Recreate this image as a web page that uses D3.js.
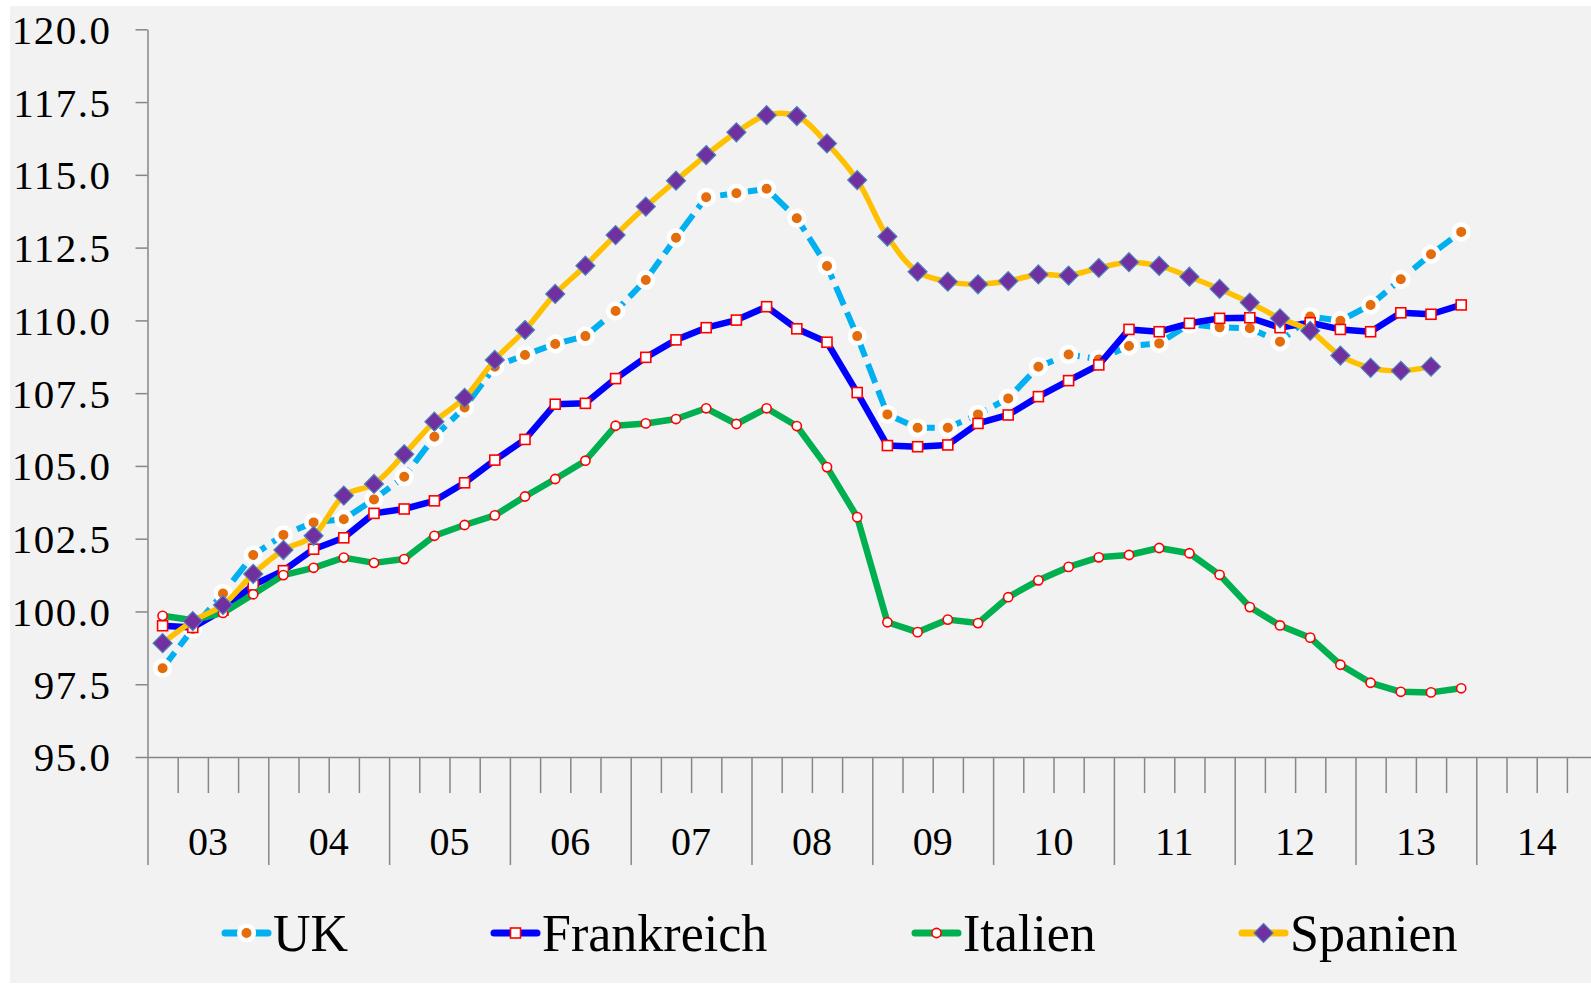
<!DOCTYPE html>
<html>
    <head>
        <title>UK Frankreich Italien Spanien</title>
        <style>
        html, body{
            margin: 0;
            padding: 0;
            background: #ffffff;
        }
        svg{
            display: block;
        }
        </style>
    </head>
    <body>
        <svg width="1591" height="986"></svg>

        <script src="https://cdnjs.cloudflare.com/ajax/libs/d3/7.8.5/d3.min.js"></script>
        <script>
            // quarterly values, 2003 Q1 onwards
            const years = ["03", "04", "05", "06", "07", "08", "09", "10", "11", "12", "13", "14"];
            const yTicks = [95, 97.5, 100, 102.5, 105, 107.5, 110, 112.5, 115, 117.5, 120];

            const uk = [98.05, 99.4, 100.62, 101.94, 102.63, 103.06, 103.17, 103.85, 104.63, 106.0,
                107.01, 108.41, 108.81, 109.19, 109.46, 110.32, 111.39, 112.84, 114.23, 114.37,
                114.52, 113.51, 111.87, 109.46, 106.77, 106.31, 106.31, 106.77, 107.32, 108.41,
                108.83, 108.66, 109.12, 109.21, 109.87, 109.76, 109.73, 109.27, 110.13, 109.99,
                110.53, 111.41, 112.27, 113.04];
            const frankreich = [99.51, 99.45, 100.05, 100.91, 101.4, 102.14, 102.53, 103.37, 103.52, 103.8,
                104.42, 105.2, 105.91, 107.12, 107.15, 108.0, 108.73, 109.33, 109.75, 110.01,
                110.47, 109.71, 109.25, 107.52, 105.7, 105.66, 105.72, 106.46, 106.75, 107.38,
                107.93, 108.47, 109.69, 109.61, 109.9, 110.07, 110.09, 109.75, 109.92, 109.69,
                109.61, 110.26, 110.21, 110.53];
            const italien = [99.85, 99.7, 99.95, 100.59, 101.25, 101.5, 101.85, 101.67, 101.8, 102.6,
                102.97, 103.3, 103.95, 104.55, 105.18, 106.38, 106.46, 106.61, 106.98, 106.44,
                106.98, 106.37, 104.96, 103.24, 99.63, 99.29, 99.72, 99.6, 100.49, 101.07,
                101.53, 101.86, 101.94, 102.18, 102.0, 101.26, 100.15, 99.52, 99.1, 98.17,
                97.55, 97.24, 97.22, 97.36];
            const spanien = [98.91, 99.67, 100.22, 101.29, 102.11, 102.6, 103.98, 104.38, 105.4, 106.52,
                107.34, 108.64, 109.67, 110.91, 111.88, 112.93, 113.91, 114.8, 115.68, 116.46,
                117.05, 117.02, 116.08, 114.82, 112.88, 111.67, 111.33, 111.24, 111.35, 111.58,
                111.54, 111.8, 112.0, 111.87, 111.5, 111.08, 110.61, 110.07, 109.64, 108.79,
                108.37, 108.27, 108.41];

            const width = 1591;
            const x0 = 147.5;
            const qw = 30.2;   // one quarter
            const yTop = 29.3;
            const yBottom = 757;
            const serif = "'Liberation Serif', 'Times New Roman', serif";

            let svg = d3.select("svg");

            // grey chart area
            svg.append("rect")
                .attr("x", 10)
                .attr("y", 6)
                .attr("width", width - 10)
                .attr("height", 977)
                .attr("fill", "#f2f2f2");

            let xScale = d3.scaleLinear()
                .domain([0, years.length * 4])
                .range([x0, x0 + years.length * 4 * qw]);
            let yearScale = d3.scaleBand()
                .domain(years)
                .range(xScale.range());
            let yScale = d3.scaleLinear()
                .domain([95, 120])
                .range([yBottom, yTop]);

            // y axis
            let yAxis = d3.axisLeft(yScale)
                .tickValues(yTicks)
                .tickFormat(d3.format(".1f"))
                .tickSize(12)
                .tickSizeOuter(0)
                .tickPadding(24);
            let gy = svg.append("g")
                .attr("transform", "translate(" + [x0, 0] + ")")
                .call(yAxis);
            gy.selectAll("text")
                .style("font-family", serif)
                .style("font-size", "41px")
                .style("letter-spacing", "1.5px")
                .attr("fill", "#000")
                .attr("dy", "0.34em");

            // x axis: quarter ticks, year ticks, year labels
            let quarters = d3.range(0, years.length * 4 + 1);
            let gq = svg.append("g")
                .attr("transform", "translate(" + [0, yBottom] + ")")
                .call(d3.axisBottom(xScale)
                    .tickValues(quarters.filter(q => q % 4 !== 0))
                    .tickSize(36)
                    .tickSizeOuter(0)
                    .tickFormat(""));
            gq.select(".domain").remove();

            svg.append("g")
                .attr("transform", "translate(" + [0, yBottom] + ")")
                .call(d3.axisBottom(xScale)
                    .tickValues(quarters.filter(q => q % 4 === 0))
                    .tickSize(108)
                    .tickSizeOuter(0)
                    .tickFormat(""));

            let gl = svg.append("g")
                .attr("transform", "translate(" + [0, yBottom] + ")")
                .call(d3.axisBottom(yearScale).tickSize(0).tickPadding(70));
            gl.select(".domain").remove();
            gl.selectAll("text")
                .style("font-family", serif)
                .style("font-size", "40px")
                .attr("fill", "#000");

            svg.selectAll(".domain, .tick line")
                .attr("stroke", "#868686")
                .attr("stroke-width", 1.5);

            // series
            const series = [
                {name: "UK", values: uk, color: "#00b0f0", width: 6, dash: "20,8", marker: "dot"},
                {name: "Frankreich", values: frankreich, color: "#0000ff", width: 6.5, dash: null, marker: "square"},
                {name: "Italien", values: italien, color: "#00b050", width: 6.5, dash: null, marker: "ring"},
                {name: "Spanien", values: spanien, color: "#ffc000", width: 5.5, dash: null, marker: "diamond"}
            ];

            function drawMarker(g, type) {
                if (type === "dot") {
                    g.append("circle").attr("r", 7.3)
                        .attr("fill", "#e46c0a").attr("stroke", "#ffffff").attr("stroke-width", 4.6);
                } else if (type === "square") {
                    g.append("rect").attr("x", -5).attr("y", -5).attr("width", 10).attr("height", 10)
                        .attr("fill", "#ffffff").attr("stroke", "#ff0000").attr("stroke-width", 1.6);
                } else if (type === "ring") {
                    g.append("circle").attr("r", 4.6)
                        .attr("fill", "#ffffff").attr("stroke", "#ff0000").attr("stroke-width", 1.6);
                } else {
                    g.append("path").attr("d", "M0,-9.5L9.5,0L0,9.5L-9.5,0Z")
                        .attr("fill", "#7030a0").attr("stroke", "#4f81bd").attr("stroke-width", 1.2);
                }
            }

            series.forEach(s => {
                let line = d3.line()
                    .x((d, i) => xScale(i + 0.5))
                    .y(d => yScale(d))
                    .curve(s.marker === "diamond" ? d3.curveCatmullRom : d3.curveLinear);

                let g = svg.append("g");
                g.append("path")
                    .datum(s.values)
                    .attr("d", line)
                    .attr("fill", "none")
                    .attr("stroke", s.color)
                    .attr("stroke-width", s.width)
                    .attr("stroke-linejoin", "round")
                    .attr("stroke-dasharray", s.dash);

                g.selectAll(".pt")
                    .data(s.values)
                    .enter().append("g")
                    .attr("class", "pt")
                    .attr("transform", (d, i) => "translate(" + [xScale(i + 0.5), yScale(d)] + ")")
                    .each(function() { drawMarker(d3.select(this), s.marker); });
            });

            // legend
            const legendX = [223, 492, 913, 1240];
            const legendY = 933;
            series.forEach((s, i) => {
                let g = svg.append("g")
                    .attr("transform", "translate(" + [legendX[i], legendY] + ")");
                g.append("line")
                    .attr("x1", 2).attr("x2", 45)
                    .attr("stroke", s.color)
                    .attr("stroke-width", 7)
                    .attr("stroke-linecap", "round");
                let m = g.append("g").attr("transform", "translate(23.5,0)");
                drawMarker(m, s.marker);
                g.append("text")
                    .attr("x", 50)
                    .attr("y", 18)
                    .style("font-family", serif)
                    .style("font-size", "52px")
                    .attr("fill", "#000")
                    .text(s.name);
            });
        </script>
    </body>
</html>
